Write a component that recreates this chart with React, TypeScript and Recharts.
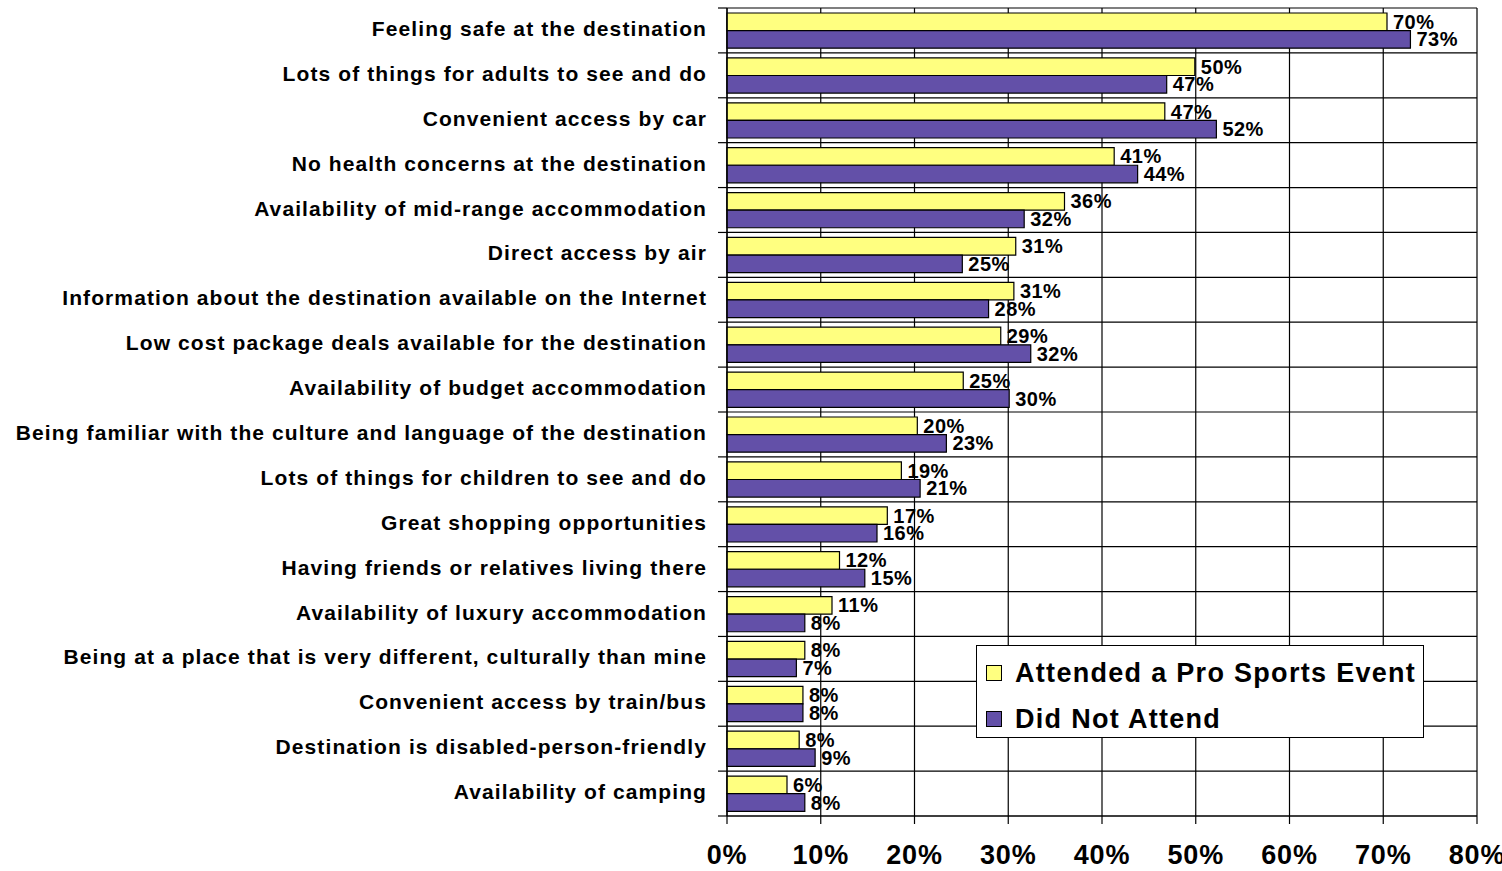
import React from "react";
import { BarChart, Bar, XAxis, YAxis, CartesianGrid, LabelList } from "recharts";

const categories = [
  "Feeling safe at the destination",
  "Lots of things for adults to see and do",
  "Convenient access by car",
  "No health concerns at the destination",
  "Availability of mid-range accommodation",
  "Direct access by air",
  "Information about the destination available on the Internet",
  "Low cost package deals available for the destination",
  "Availability of budget accommodation",
  "Being familiar with the culture and language of the destination",
  "Lots of things for children to see and do",
  "Great shopping opportunities",
  "Having friends or relatives living there",
  "Availability of luxury accommodation",
  "Being at a place that is very different, culturally than mine",
  "Convenient access by train/bus",
  "Destination is disabled-person-friendly",
  "Availability of camping",
];

const attended = [70.4, 49.9, 46.7, 41.3, 36.0, 30.8, 30.6, 29.2, 25.2, 20.3, 18.6, 17.1, 12.0, 11.2, 8.3, 8.1, 7.7, 6.4];
const didNotAttend = [72.9, 46.9, 52.2, 43.8, 31.7, 25.1, 27.9, 32.4, 30.1, 23.4, 20.6, 16.0, 14.7, 8.3, 7.4, 8.1, 9.4, 8.3];

const xTicks = [0, 10, 20, 30, 40, 50, 60, 70, 80];

const SERIES_A = "Attended a Pro Sports Event";
const SERIES_B = "Did Not Attend";
const COLOR_A = "#FFFF80";
const COLOR_B = "#6350A8";

const data = categories.map((c, i) => ({ name: c, a: attended[i], b: didNotAttend[i] }));

const W = 1502;
const H = 871;
const M = { top: 8, right: 25, bottom: 0, left: 0 };
const YAXIS_W = 727;
const XAXIS_H = 55;
const PLOT_H = H - M.top - M.bottom - XAXIS_H;
const BAND = PLOT_H / categories.length;
const FONT = "'Liberation Sans', Arial, sans-serif";

const CategoryTick = (props: any) => {
  const { y, payload, index } = props;
  const ax = M.left + YAXIS_W;
  const top = y - BAND / 2;
  return (
    <g>
      <line x1={ax - 9} x2={ax} y1={top} y2={top} stroke="#000" strokeWidth={1.2} />
      {index === categories.length - 1 && (
        <line x1={ax - 9} x2={ax} y1={y + BAND / 2} y2={y + BAND / 2} stroke="#000" strokeWidth={1.2} />
      )}
      <text
        x={ax - 20}
        y={y - 2}
        textAnchor="end"
        dominantBaseline="central"
        fontFamily={FONT}
        fontWeight="bold"
        fontSize={21}
        letterSpacing={1.1}
        fill="#000"
      >
        {payload.value}
      </text>
    </g>
  );
};

const ValueLabel = (props: any) => {
  const { x, y, width, height, value } = props;
  return (
    <text
      x={x + width + 6}
      y={y + height / 2}
      dominantBaseline="central"
      fontFamily={FONT}
      fontWeight="bold"
      fontSize={20}
      letterSpacing={0.5}
      fill="#000"
    >
      {Math.round(value) + "%"}
    </text>
  );
};

const legendItems = [
  { label: SERIES_A, color: COLOR_A },
  { label: SERIES_B, color: COLOR_B },
];

const LegendBox = () => (
  <div
    style={{
      position: "absolute",
      left: 976,
      top: 645,
      width: 448,
      height: 93,
      boxSizing: "border-box",
      border: "1.5px solid #000",
      background: "#fff",
      paddingLeft: 9,
      paddingTop: 4,
      fontFamily: FONT,
      fontWeight: "bold",
      fontSize: 27,
      letterSpacing: 1.3,
      color: "#000",
    }}
  >
    {legendItems.map((p) => (
      <div key={p.label} style={{ display: "flex", alignItems: "center", height: 46, whiteSpace: "nowrap" }}>
        <span
          style={{
            display: "inline-block",
            width: 16,
            height: 16,
            boxSizing: "border-box",
            border: "1.5px solid #000",
            background: p.color,
            marginRight: 13,
            flex: "none",
          }}
        />
        <span>{p.label}</span>
      </div>
    ))}
  </div>
);

export default function App() {
  return (
    <div style={{ position: "absolute", left: 0, top: 0, width: W, height: H, background: "#fff", overflow: "hidden" }}>
      <BarChart
        width={W}
        height={H}
        data={data}
        layout="vertical"
        margin={M}
        barGap={0}
        barSize={17.6}
      >
        <CartesianGrid
          stroke="#000"
          strokeWidth={1.2}
          horizontalCoordinatesGenerator={({ offset }: any) =>
            Array.from({ length: categories.length + 1 }, (_, i) => offset.top + (i * offset.height) / categories.length)
          }
        />
        <XAxis
          type="number"
          domain={[0, 80]}
          ticks={xTicks}
          interval={0}
          height={XAXIS_H}
          tickFormatter={(v: number) => v + "%"}
          axisLine={{ stroke: "#000", strokeWidth: 1.2 }}
          tickLine={{ stroke: "#000", strokeWidth: 1.2 }}
          tickSize={8}
          tickMargin={21}
          tick={{ fill: "#000", fontFamily: FONT, fontWeight: "bold", fontSize: 27, letterSpacing: 0.8 }}
        />
        <YAxis
          type="category"
          dataKey="name"
          width={YAXIS_W}
          interval={0}
          tickLine={false}
          axisLine={{ stroke: "#000", strokeWidth: 1.2 }}
          tick={<CategoryTick />}
        />
        <Bar dataKey="a" name={SERIES_A} fill={COLOR_A} stroke="#000" strokeWidth={1.2} isAnimationActive={false}>
          <LabelList dataKey="a" content={<ValueLabel />} />
        </Bar>
        <Bar dataKey="b" name={SERIES_B} fill={COLOR_B} stroke="#000" strokeWidth={1.2} isAnimationActive={false}>
          <LabelList dataKey="b" content={<ValueLabel />} />
        </Bar>
      </BarChart>
      <LegendBox />
    </div>
  );
}
